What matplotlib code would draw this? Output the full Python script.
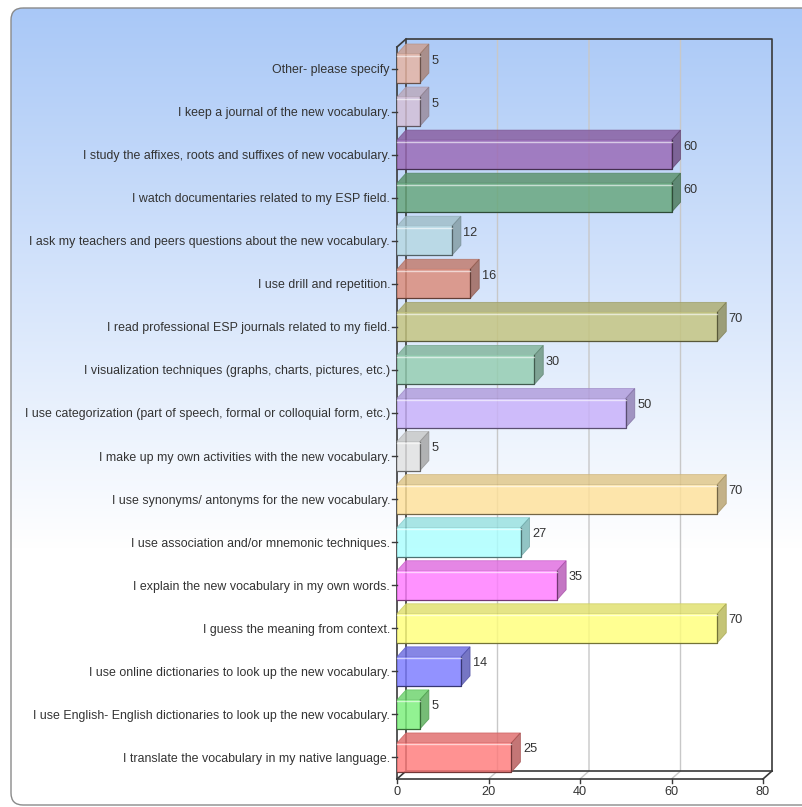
import matplotlib
matplotlib.use('Agg')
import matplotlib.pyplot as plt
from matplotlib.patches import Rectangle, Polygon, FancyBboxPatch
from matplotlib.colors import to_rgb
import numpy as np

plt.rcParams['font.family'] = ['Liberation Sans', 'DejaVu Sans']

# categories from top to bottom, as in the chart
labels = [
    "Other- please specify",
    "I keep a journal of the new vocabulary.",
    "I study the affixes, roots and suffixes of new vocabulary.",
    "I watch documentaries related to my ESP field.",
    "I ask my teachers and peers questions about the new vocabulary.",
    "I use drill and repetition.",
    "I read professional ESP journals related to my field.",
    "I visualization techniques (graphs, charts, pictures, etc.)",
    "I use categorization (part of speech, formal or colloquial form, etc.)",
    "I make up my own activities with the new vocabulary.",
    "I use synonyms/ antonyms for the new vocabulary.",
    "I use association and/or mnemonic techniques.",
    "I explain the new vocabulary in my own words.",
    "I guess the meaning from context.",
    "I use online dictionaries to look up the new vocabulary.",
    "I use English- English dictionaries to look up the new vocabulary.",
    "I translate the vocabulary in my native language.",
]
values = [5, 5, 60, 60, 12, 16, 70, 30, 50, 5, 70, 27, 35, 70, 14, 5, 25]
colors = ["#e9b5a2", "#d6c0d6", "#9a68b5", "#66a67a", "#b6d8e2", "#dc8a78",
          "#c4c47e", "#93cdb0", "#c8b0fa", "#e2e2e2", "#ffe199", "#aaffff",
          "#ff7aff", "#ffff7a", "#7a7aff", "#7af07a", "#ff7a7a"]
xticks = [0, 20, 40, 60, 80]

W, H = 802, 807
fig = plt.figure(figsize=(W / 100, H / 100), dpi=100)

# background panel with gradient
bg = fig.add_axes([0, 0, 1, 1])
bg.set_xlim(0, W)
bg.set_ylim(H, 0)
bg.axis('off')
grad = np.ones((H, 1, 3))
top_c = np.array(to_rgb("#a9c8f7"))
for r in range(H):
    t = min(max((r - 8) / 540.0, 0), 1)
    grad[r, 0] = top_c * (1 - t) + np.ones(3) * t
panel = FancyBboxPatch((11, 8), 820, 797, boxstyle="round,pad=0,rounding_size=12",
                       fc='none', ec='#8a8a8a', lw=1.0)
bg.add_patch(panel)
im = bg.imshow(grad, extent=(0, W, H, 0), aspect='auto', zorder=0)
im.set_clip_path(panel)

# main plot area (pixel geometry of the 3D box)
x0_px, x80_px, ddx_px = 397, 763, 9
front_top, front_bot, ddy_px = 47, 779, 8
ppu = (x80_px - x0_px) / 80.0
n = len(labels)
ppc = (front_bot - front_top) / float(n)
ddx = ddx_px / ppu
ddy = ddy_px / ppc
ax = fig.add_axes([x0_px / W, (H - front_bot) / H,
                   (x80_px - x0_px + ddx_px) / W, (front_bot - front_top + ddy_px) / H])
ax.set_xlim(0, 80 + ddx)
ax.set_ylim(-0.5, n - 0.5 + ddy)
ax.axis('off')

lo, hi = -0.5, n - 0.5
axc = '#3a3a3a'
txc = '#333333'
fs = 8.9
# gridlines on floor and back wall
for xv in xticks[1:-1]:
    ax.plot([xv, xv + ddx, xv + ddx], [lo, lo + ddy, hi + ddy], color='#c8c8c8', lw=1.0, zorder=1)
# back wall and side lines
ax.plot([ddx, ddx, 80 + ddx, 80 + ddx], [lo + ddy, hi + ddy, hi + ddy, lo + ddy], color=axc, lw=1.2, zorder=1, clip_on=False)
ax.plot([ddx, 80 + ddx], [lo + ddy, lo + ddy], color=axc, lw=1.2, zorder=1, clip_on=False)
ax.plot([0, ddx], [lo, lo + ddy], color=axc, lw=1.2, zorder=1, clip_on=False)
ax.plot([80, 80 + ddx], [lo, lo + ddy], color=axc, lw=1.2, zorder=1, clip_on=False)
ax.plot([0, 0], [lo, hi], color=axc, lw=1.2, zorder=1, clip_on=False)
ax.plot([0, ddx], [hi, hi + ddy], color=axc, lw=1.2, zorder=1, clip_on=False)
ax.plot([0, 80], [lo, lo], color=axc, lw=1.2, zorder=5, clip_on=False)

# bars
bh = 29 / ppc
bdx = 9 / ppu
bdy = 10 / ppc
for k, (lab, v, c) in enumerate(zip(labels, values, colors)):
    y = n - 1 - k
    rgb = np.array(to_rgb(c))
    a = 0.82
    ax.add_patch(Polygon([(0, y + bh / 2), (v, y + bh / 2), (v + bdx, y + bh / 2 + bdy), (bdx, y + bh / 2 + bdy)],
                         closed=True, fc=rgb * 0.88, ec=rgb * 0.8, lw=0.6, alpha=a, zorder=3, clip_on=False))
    ax.add_patch(Polygon([(v, y - bh / 2), (v + bdx, y - bh / 2 + bdy), (v + bdx, y + bh / 2 + bdy), (v, y + bh / 2)],
                         closed=True, fc=rgb * 0.72, ec=rgb * 0.65, lw=0.6, alpha=a, zorder=3, clip_on=False))
    ax.add_patch(Rectangle((0, y - bh / 2), v, bh, fc=rgb, ec='none', alpha=a, zorder=3, clip_on=False))
    ax.plot([0, v, v], [y - bh / 2, y - bh / 2, y + bh / 2], color=rgb * 0.45, lw=0.9, zorder=4, clip_on=False)
    ax.plot([0, v], [y + bh / 2 - 1.5 / ppc] * 2, color='white', lw=1.0, alpha=0.6, zorder=4, clip_on=False)
    ax.text(v + bdx + 2.5 / ppu, y + 8 / ppc, str(v), fontsize=9.2, color=txc,
            ha='left', va='center', zorder=6)
    # category tick and label
    ax.plot([-5 / ppu, 0], [y, y], color=axc, lw=1.0, clip_on=False, zorder=5)
    ax.text(-7 / ppu, y - 1.5 / ppc, lab, fontsize=fs, color=txc, ha='right', va='center')

for xv in xticks:
    ax.plot([xv, xv], [lo, lo - 4 / ppc], color=axc, lw=1.0, clip_on=False, zorder=5)
    ax.text(xv, lo - 13 / ppc, str(xv), fontsize=9.2, color=txc, ha='center', va='center')

fig.savefig('out.png', dpi=100)
